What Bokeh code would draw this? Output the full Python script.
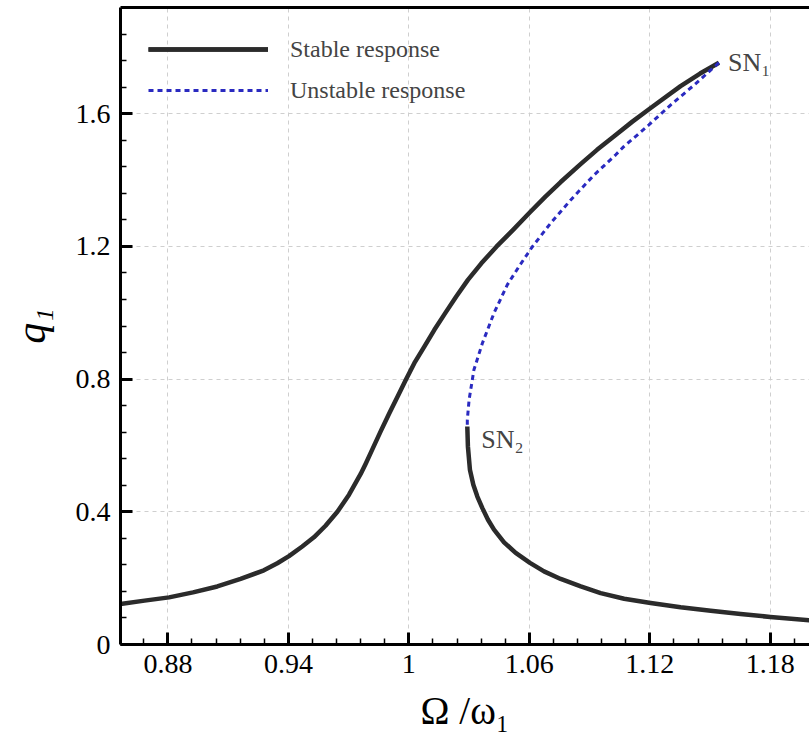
import numpy as np
from bokeh.plotting import figure
from bokeh.models import Range1d, FixedTicker, LinearAxis, Legend, LegendItem, Label
from bokeh.embed import file_html
from bokeh.resources import INLINE

# Frequency ratio (Omega / omega_1) and amplitude q1 along each branch of the response curve
upper_omega = [0.8564, 0.8684, 0.8806, 0.8925, 0.9046, 0.9162, 0.9278, 0.9345, 0.9403, 0.9469,
               0.9527, 0.9585, 0.9644, 0.9702, 0.976, 0.9785, 0.9818, 0.986, 0.9902, 0.9944,
               0.9985, 1.0027, 1.0077, 1.0127, 1.0181, 1.0236, 1.0294, 1.0361, 1.0436, 1.0519,
               1.0603, 1.068, 1.0756, 1.0855, 1.0937, 1.1022, 1.1113, 1.1204, 1.1353, 1.145,
               1.1544]
upper_q = [0.1223, 0.1322, 0.142, 0.157, 0.175, 0.1976, 0.2235, 0.245, 0.2665, 0.2955,
           0.323, 0.358, 0.400, 0.4515, 0.514, 0.545, 0.588, 0.643, 0.696, 0.7476,
           0.798, 0.848, 0.898, 0.9485, 0.9988, 1.049, 1.099, 1.149, 1.199, 1.2497,
           1.303, 1.350, 1.394, 1.448, 1.491, 1.532, 1.576, 1.617, 1.683, 1.721,
           1.7536]

unstable_omega = [1.1544, 1.142, 1.1303, 1.1195, 1.107, 1.103, 1.0922, 1.0806, 1.0706, 1.0615,
                  1.0548, 1.049, 1.0424, 1.0366, 1.0324, 1.030, 1.0291, 1.0291]
unstable_q = [1.7536, 1.686, 1.626, 1.566, 1.5006, 1.476, 1.415, 1.340, 1.270, 1.199,
              1.139, 1.084, 0.999, 0.908, 0.828, 0.738, 0.677, 0.657]

lower_omega = [1.0291, 1.0294, 1.0304, 1.0321, 1.0341, 1.0366, 1.0394, 1.0424, 1.0474, 1.0532,
               1.0603, 1.0673, 1.0756, 1.0856, 1.0955, 1.1072, 1.1204, 1.1353, 1.1503, 1.1652,
               1.18, 1.1995]
lower_q = [0.657, 0.597, 0.527, 0.4816, 0.446, 0.411, 0.376, 0.346, 0.308, 0.276,
           0.246, 0.2205, 0.1976, 0.175, 0.155, 0.138, 0.125, 0.112, 0.102, 0.092,
           0.083, 0.073]

x_ticks = [0.88, 0.94, 1.0, 1.06, 1.12, 1.18]
x_tick_labels = ["0.88", "0.94", "1", "1.06", "1.12", "1.18"]
y_ticks = [0.0, 0.4, 0.8, 1.2, 1.6]
y_tick_labels = ["0", "0.4", "0.8", "1.2", "1.6"]

x_minor = [round(v, 3) for v in np.arange(0.868, 1.2, 0.012)]
y_minor = [round(v, 2) for v in np.arange(0.0, 1.92, 0.08)]

SERIF = "Liberation Serif"

p = figure(width=809, height=740,
           x_range=Range1d(0.8564, 1.1995), y_range=Range1d(0, 1.92),
           output_backend="svg", toolbar_location=None,
           min_border_left=120, min_border_right=0, min_border_top=7, min_border_bottom=96)
p.outline_line_color = None
p.background_fill_color = "white"
p.border_fill_color = "white"

xa = p.xaxis[0]
ya = p.yaxis[0]
xa.ticker = FixedTicker(ticks=x_ticks, minor_ticks=x_minor)
ya.ticker = FixedTicker(ticks=y_ticks, minor_ticks=y_minor)
xa.major_label_overrides = dict(zip(x_ticks, x_tick_labels))
ya.major_label_overrides = dict(zip(y_ticks, y_tick_labels))

for ax in (xa, ya):
    ax.axis_line_width = 3
    ax.axis_line_color = "black"
    ax.major_tick_line_width = 3
    ax.major_tick_line_color = "black"
    ax.major_tick_in = 12
    ax.major_tick_out = 0
    ax.minor_tick_line_width = 1.5
    ax.minor_tick_line_color = "black"
    ax.minor_tick_in = 6
    ax.minor_tick_out = 0
    ax.major_label_text_font = SERIF
    ax.major_label_text_font_size = "28px"
    ax.major_label_text_color = "black"
    ax.major_label_standoff = 10
    ax.axis_label_text_font = SERIF
    ax.axis_label_text_color = "black"

xa.axis_label = "Ω /ω₁"
xa.axis_label_text_font_size = "39px"
xa.axis_label_text_font_style = "normal"
xa.axis_label_standoff = 13

ya.axis_label = "q₁"
ya.axis_label_text_font_size = "42px"
ya.axis_label_text_font_style = "italic"
ya.axis_label_standoff = 19

# top frame line
top_axis = LinearAxis(ticker=FixedTicker(ticks=[]), major_label_text_font_size="0px",
                      major_label_standoff=0, axis_line_width=3, axis_line_color="black",
                      major_tick_out=0, minor_tick_out=0)
p.add_layout(top_axis, "above")

for g in (p.xgrid[0], p.ygrid[0]):
    g.grid_line_color = "#cfcfcf"
    g.grid_line_dash = "4 4"
    g.grid_line_width = 1

stable_color = "#2b2b2b"
up = p.line(upper_omega, upper_q, line_color=stable_color, line_width=4.5, line_join="round")
low = p.line(lower_omega, lower_q, line_color=stable_color, line_width=4.5, line_join="round")
uns = p.line(unstable_omega, unstable_q, line_color="#2a2ac0", line_width=3, line_dash="5 4")

legend = Legend(items=[LegendItem(label="Stable response", renderers=[up, low]),
                       LegendItem(label="Unstable response", renderers=[uns])],
                location="top_left", glyph_width=120, glyph_height=28, label_standoff=22,
                spacing=13, padding=0, margin=28, border_line_alpha=0,
                background_fill_alpha=0, label_text_font=SERIF, label_text_font_size="24px")
p.add_layout(legend)

p.add_layout(Label(x=upper_omega[-1], y=upper_q[-1], text="SN₁", x_offset=9, y_offset=0,
                   text_baseline="alphabetic", text_font=SERIF, text_font_size="26px"))
p.add_layout(Label(x=lower_omega[0], y=lower_q[0], text="SN₂", x_offset=14, y_offset=-13,
                   text_baseline="alphabetic", text_font=SERIF, text_font_size="26px"))

open("out.html", "w").write(file_html(p, INLINE))
